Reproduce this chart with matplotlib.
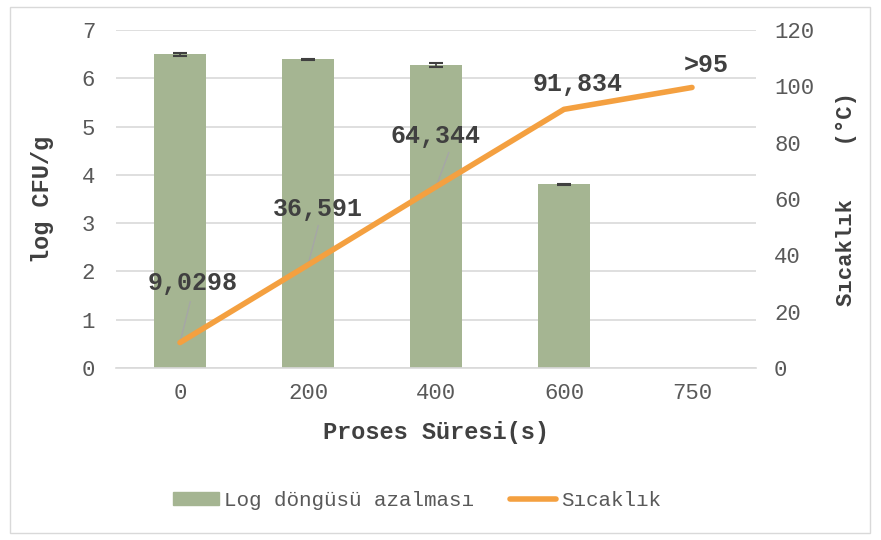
import matplotlib
matplotlib.use("Agg")
import matplotlib.pyplot as plt
from matplotlib.patches import Rectangle
from matplotlib.lines import Line2D

categories = ["0", "200", "400", "600", "750"]
log_reduction = [6.50, 6.39, 6.28, 3.81, None]
log_err = [0.03, 0.01, 0.04, 0.01, None]
temperature = [9.0298, 36.591, 64.344, 91.834, 99.6]
temp_labels = ["9,0298", "36,591", "64,344", "91,834", ">95"]
label_pos = [(0.1, 30.2), (1.08, 56.4), (2.0, 82.4), (3.11, 101.0), (4.11, 107.6)]
leader_end = [(0.08, 23.5), (1.08, 50.5), (2.1, 76.5), None, None]

FONT = "Liberation Mono"
plt.rcParams["font.family"] = [FONT, "DejaVu Sans"]

fig = plt.figure(figsize=(8.81, 5.40), dpi=100)
ax = fig.add_axes([116/881, 1 - 368/540, 640/881, 338/540])
ax2 = ax.twinx()

x = list(range(len(categories)))
bx = [i for i, v in zip(x, log_reduction) if v is not None]
bv = [v for v in log_reduction if v is not None]
be = [e for e in log_err if e is not None]
ax.bar(bx, bv, width=0.4, color="#a5b592", zorder=2)
ax.errorbar(bx, bv, yerr=be, fmt="none", ecolor="#404040", elinewidth=1.2,
            capsize=5, capthick=1.5, zorder=3)

ax.set_xlim(-0.5, len(categories) - 0.5)
ax.set_ylim(0, 7)
ax.set_yticks(range(0, 8))
ax.grid(axis="y", color="#d9d9d9", linewidth=1.2, zorder=0)
ax.set_axisbelow(True)
ax.set_xticks(x)
ax.set_xticklabels(categories)

for i, (t, le) in enumerate(zip(temperature, leader_end)):
    if le is not None:
        ax2.plot([i, le[0]], [t, le[1]], color="#a6a6a6", linewidth=1, zorder=3)

ax2.plot(x, temperature, color="#f4a040", linewidth=4, solid_capstyle="round", zorder=4)
ax2.set_ylim(0, 120)
ax2.set_yticks(range(0, 121, 20))

for lab, (lx, ly) in zip(temp_labels, label_pos):
    ax2.text(lx, ly, lab, fontsize=18, fontweight="bold", color="#404040",
             ha="center", va="center", zorder=5)

for a in (ax, ax2):
    for s in a.spines.values():
        s.set_visible(False)
    a.tick_params(length=0, labelsize=16, labelcolor="#595959")
ax.tick_params(axis="y", pad=15)
ax.tick_params(axis="x", pad=11)
ax2.tick_params(axis="y", pad=13)

ax.spines["bottom"].set_visible(True)
ax.spines["bottom"].set_color("#d9d9d9")
ax.spines["bottom"].set_linewidth(1.2)

ax.set_ylabel("log CFU/g", fontsize=17, fontweight="bold", color="#404040", labelpad=20)
ax2.set_ylabel("Sıcaklık    (°C)", fontsize=16, fontweight="bold", color="#404040", labelpad=16)
ax.set_xlabel("Proses Süresi(s)", fontsize=17, fontweight="bold", color="#404040", labelpad=12)

handles = [Rectangle((0, 0), 1, 1, color="#a5b592"),
           Line2D([0], [0], color="#f4a040", linewidth=4, solid_capstyle="round")]
fig.legend(handles, ["Log döngüsü azalması", "Sıcaklık"], loc="center",
           bbox_to_anchor=(417/881, 1 - 500/540), ncol=2, frameon=False,
           fontsize=15, labelcolor="#595959", handlelength=2.2, handleheight=0.6,
           handletextpad=0.25, columnspacing=1.7)

fig.patches.append(Rectangle((10/881, 7/540), 860/881, 526/540, transform=fig.transFigure,
                             fill=False, edgecolor="#d9d9d9", linewidth=1))

fig.savefig("out.png", dpi=100)
